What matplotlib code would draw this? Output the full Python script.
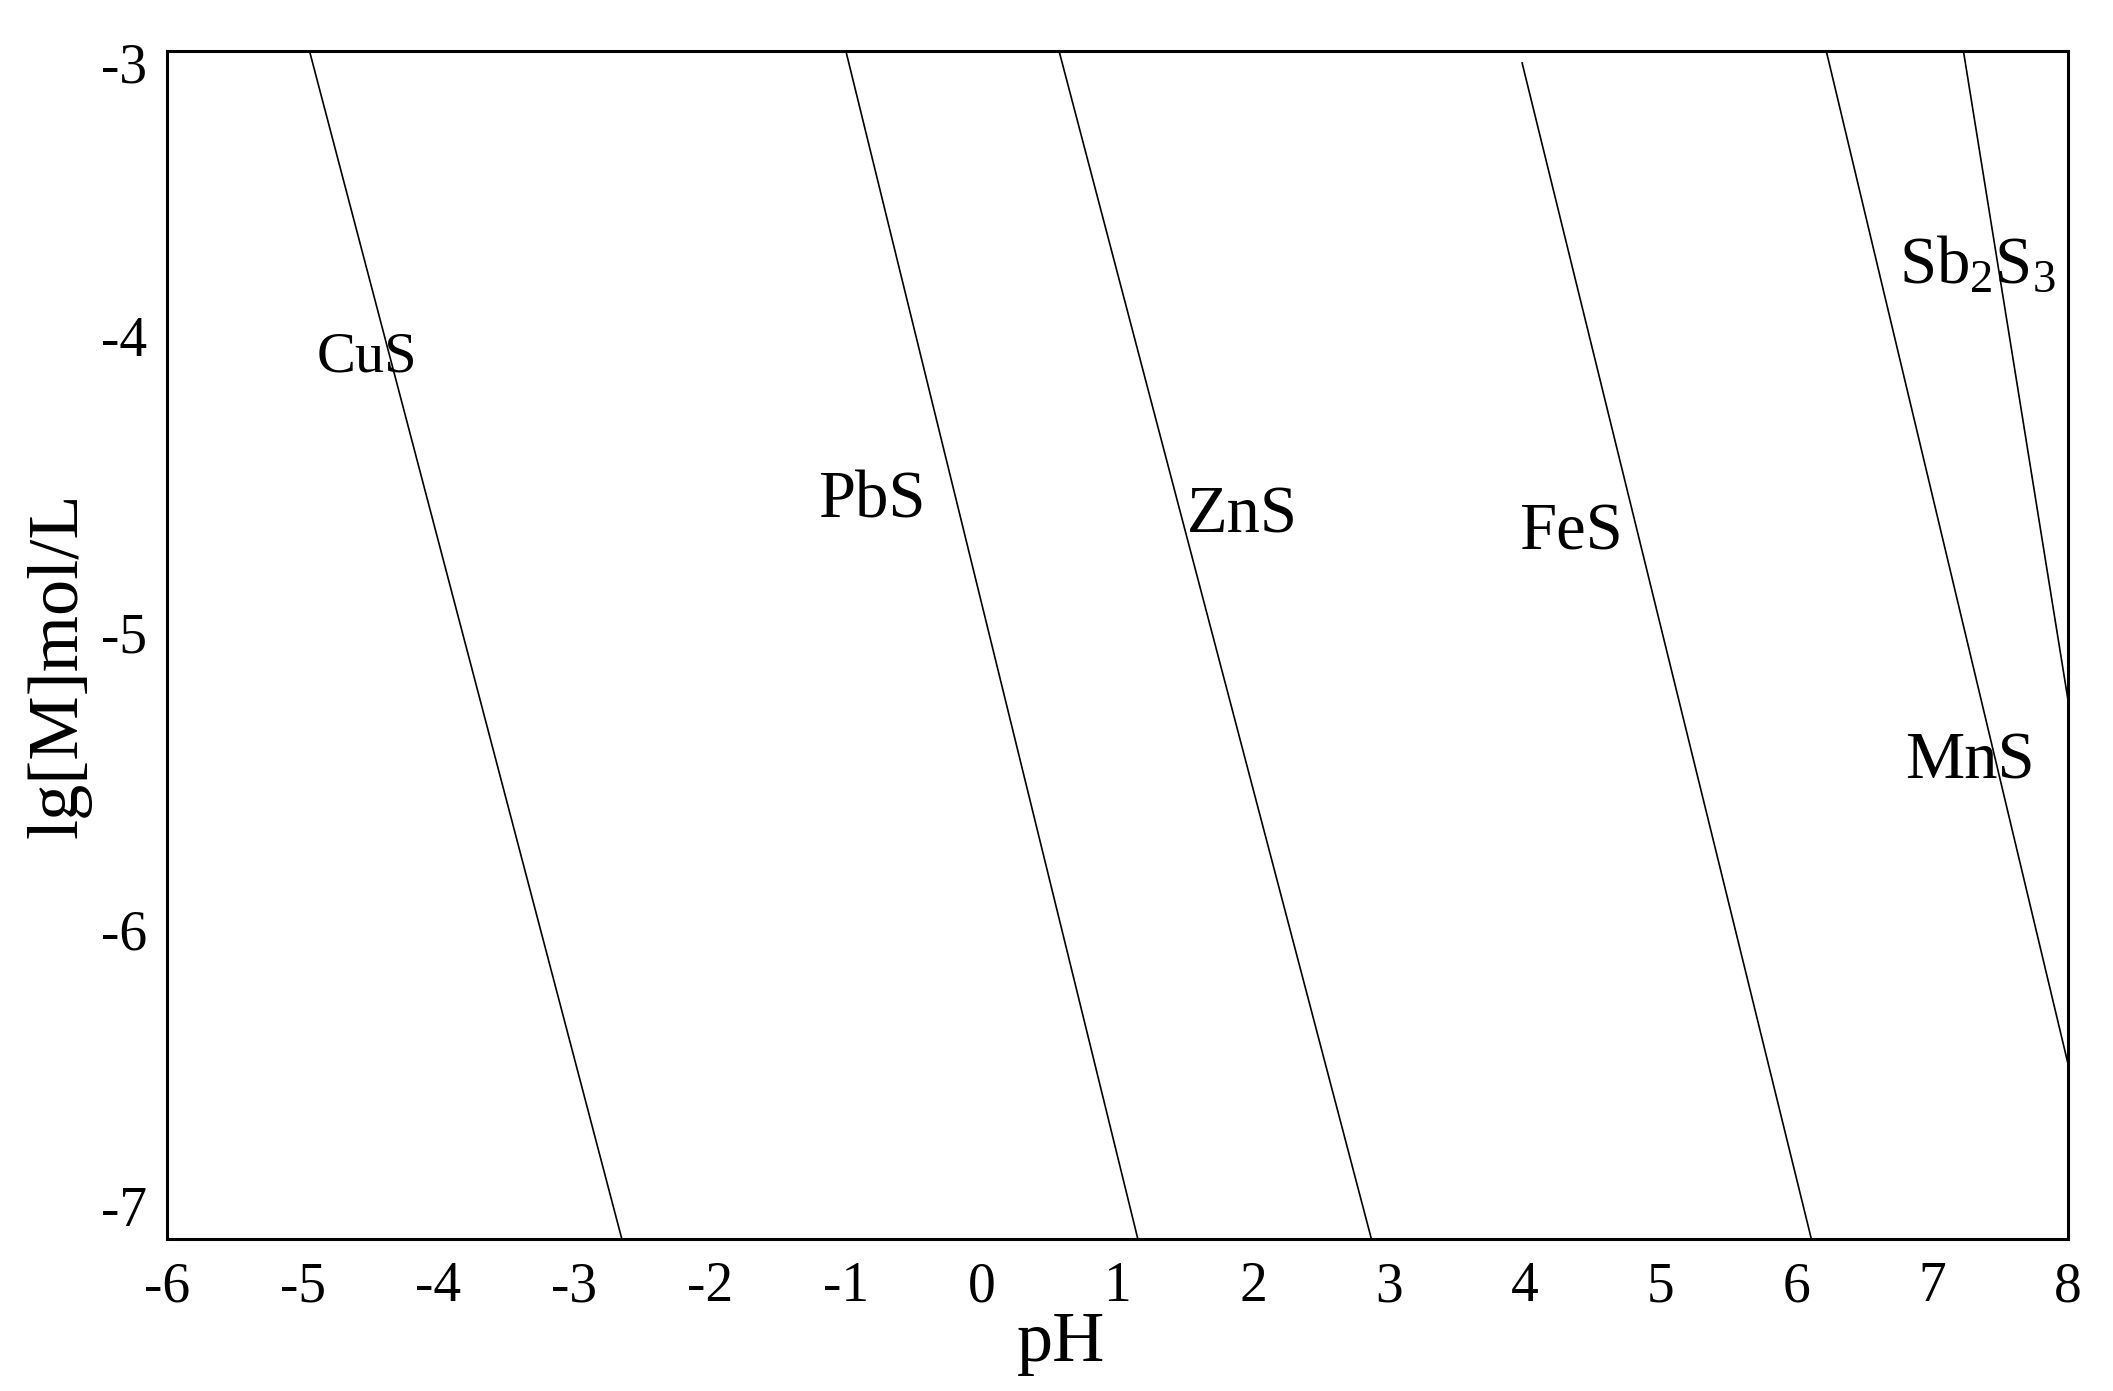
import numpy as np
import matplotlib
matplotlib.use('Agg')
import matplotlib.pyplot as plt
import matplotlib.transforms as mtransforms

plt.rcParams['font.family'] = ['Liberation Serif', 'DejaVu Serif']
plt.rcParams['mathtext.fontset'] = 'custom'
plt.rcParams['mathtext.rm'] = 'Liberation Serif'
plt.rcParams['mathtext.it'] = 'Liberation Serif'

# Precipitation lines: (pH, lg[M]) at both ends
species = ['CuS', 'PbS', 'ZnS', 'FeS', 'MnS', 'Sb2S3']
ph_start = [-4.95, -1.0, 0.57, 3.98, 6.22, 7.23]
lgm_start = [-3.0, -3.0, -3.0, -3.04, -3.0, -3.0]
ph_end = [-2.65, 1.15, 2.87, 6.11, 8.0, 8.0]
lgm_end = [-7.0, -7.0, -7.0, -7.0, -6.41, -5.185]

# Label text and where it sits (baseline, data coords)
label_text = ['CuS', 'PbS', 'ZnS', 'FeS', 'MnS', r'Sb$_2$S$_3$']
label_x = [-4.53, -0.81, 1.92, 4.34, 7.28, 7.33]
label_y = [-4.08, -4.57, -4.62, -4.68, -5.45, -3.78]
label_size = [42, 48, 48, 48, 48, 48]

x_ticks = list(range(-6, 9))
y_ticks = [-3, -4, -5, -6, -7]
# the y labels in the original sit a little off their ticks (points, + is up)
y_label_shift = [-8, 9, 9, 9, 24]

fig = plt.figure(figsize=(21.13, 13.91), dpi=100)
ax = fig.add_axes([0.0790, 0.1093, 0.8997, 0.8540])

for x0, y0, x1, y1 in zip(ph_start, lgm_start, ph_end, lgm_end):
    ax.plot([x0, x1], [y0, y1], color='black', lw=1.2)

for t, x, y, s in zip(label_text, label_x, label_y, label_size):
    ax.text(x, y, t, fontsize=s, ha='center', va='baseline')

ax.set_xlim(-6, 8)
ax.set_ylim(-7, -3)
ax.set_xticks(x_ticks)
ax.set_xticklabels([str(v) for v in x_ticks])
ax.set_yticks(y_ticks)
ax.set_yticklabels([str(v) for v in y_ticks])
ax.tick_params(axis='both', length=0, labelsize=40)
ax.tick_params(axis='x', pad=16)
ax.tick_params(axis='y', pad=14)
for sp in ax.spines.values():
    sp.set_linewidth(2.2)

for lab, dy in zip(ax.get_yticklabels(), y_label_shift):
    lab.set_transform(lab.get_transform() +
                      mtransforms.ScaledTranslation(0, dy / 72, fig.dpi_scale_trans))

fig.text(1061 / 2113, 1 - 1344 / 1391, 'pH', fontsize=52, ha='center', va='center')
fig.text(59 / 2113, 1 - 665 / 1391, 'lg[M]mol/L', fontsize=52, ha='center', va='center',
         rotation=90)

fig.savefig('out.png', dpi=100)
